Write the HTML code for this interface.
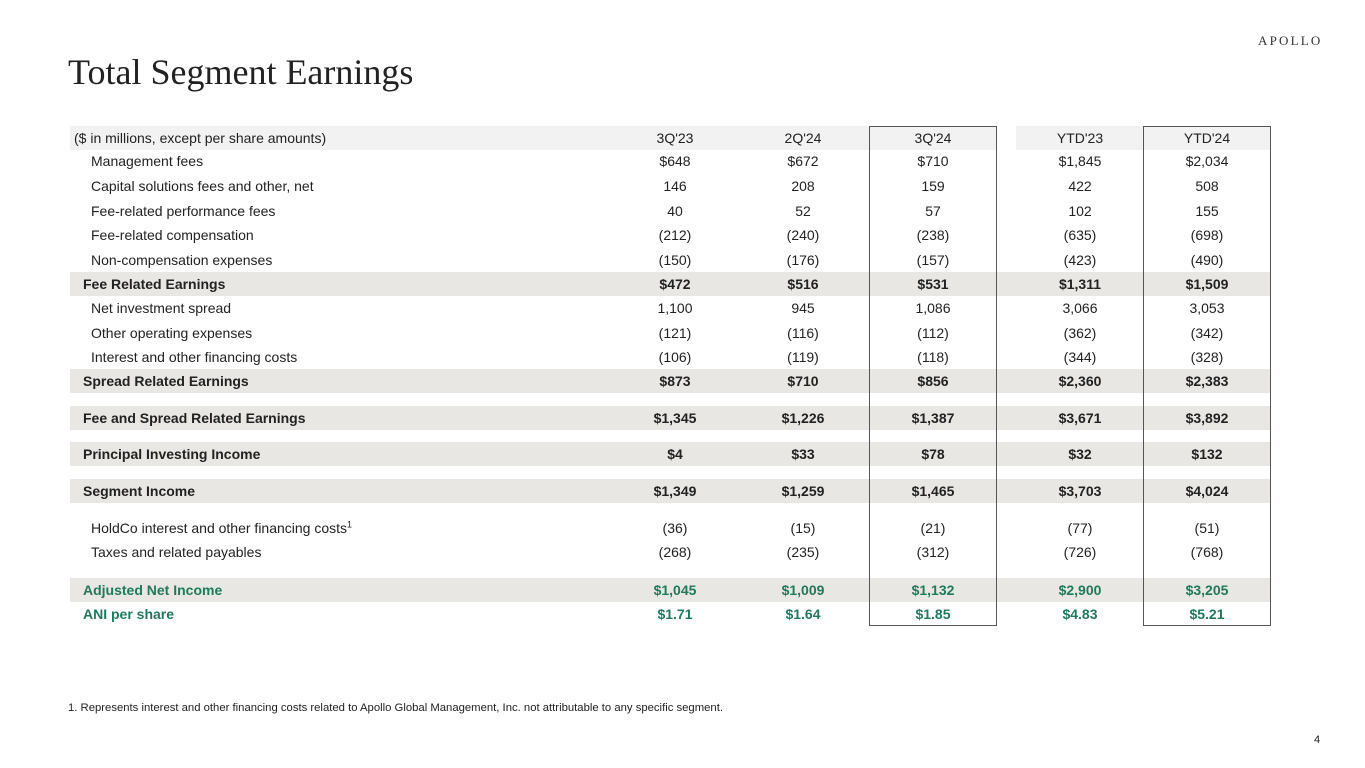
<!DOCTYPE html>
<html><head><meta charset="utf-8"><style>
body{margin:0;width:1365px;height:768px;background:#fff;position:relative;overflow:hidden;font-family:"Liberation Sans",Arial,sans-serif;color:#222;}
.t{position:absolute;left:68px;top:51px;font-family:"Liberation Serif",serif;font-size:36px;color:#222;}
.logo{position:absolute;left:1258px;top:33px;font-family:"Liberation Serif",serif;font-size:13px;letter-spacing:2.2px;color:#333;}
.band{position:absolute;left:70px;width:1200px;height:24px;background:#e8e7e3;}
.hdr{position:absolute;top:126px;height:24px;background:#f2f2f2;}
.r{position:absolute;left:0;width:1365px;height:24px;line-height:24px;font-size:14px;}
.r span{position:absolute;text-align:center;width:128px;}
.r .l{text-align:left;width:auto;left:91px;}
.b{font-weight:bold;}
.b .l{left:83px;}
.g{color:#1f7a5c;}
.box{position:absolute;top:126px;height:500px;border:1px solid #555;box-sizing:border-box;}
.fn{position:absolute;left:68px;top:702px;font-size:11.3px;}
.pg{position:absolute;left:1314px;top:734px;font-size:11px;}
sup{font-size:9px;line-height:0;}
</style></head><body>
<div class="t">Total Segment Earnings</div>
<div class="logo">APOLLO</div>
<div class="hdr" style="left:70px;width:926px"></div>
<div class="hdr" style="left:1016px;width:254px"></div>
<div class="band" style="top:272px"></div>
<div class="band" style="top:369px"></div>
<div class="band" style="top:406px"></div>
<div class="band" style="top:442px"></div>
<div class="band" style="top:479px"></div>
<div class="band" style="top:578px"></div>
<div class="box" style="left:869px;width:128px"></div>
<div class="box" style="left:1143px;width:128px"></div>

<div class="r" style="top:126px"><span class="l" style="left:74px">($ in millions, except per share amounts)</span><span style="left:611px">3Q'23</span><span style="left:739px">2Q'24</span><span style="left:869px">3Q'24</span><span style="left:1016px">YTD'23</span><span style="left:1143px">YTD'24</span></div>
<div class="r" style="top:149px"><span class="l">Management fees</span><span style="left:611px">$648</span><span style="left:739px">$672</span><span style="left:869px">$710</span><span style="left:1016px">$1,845</span><span style="left:1143px">$2,034</span></div>
<div class="r" style="top:174px"><span class="l">Capital solutions fees and other, net</span><span style="left:611px">146</span><span style="left:739px">208</span><span style="left:869px">159</span><span style="left:1016px">422</span><span style="left:1143px">508</span></div>
<div class="r" style="top:199px"><span class="l">Fee-related performance fees</span><span style="left:611px">40</span><span style="left:739px">52</span><span style="left:869px">57</span><span style="left:1016px">102</span><span style="left:1143px">155</span></div>
<div class="r" style="top:223px"><span class="l">Fee-related compensation</span><span style="left:611px">(212)</span><span style="left:739px">(240)</span><span style="left:869px">(238)</span><span style="left:1016px">(635)</span><span style="left:1143px">(698)</span></div>
<div class="r" style="top:248px"><span class="l">Non-compensation expenses</span><span style="left:611px">(150)</span><span style="left:739px">(176)</span><span style="left:869px">(157)</span><span style="left:1016px">(423)</span><span style="left:1143px">(490)</span></div>
<div class="r b" style="top:272px"><span class="l">Fee Related Earnings</span><span style="left:611px">$472</span><span style="left:739px">$516</span><span style="left:869px">$531</span><span style="left:1016px">$1,311</span><span style="left:1143px">$1,509</span></div>
<div class="r" style="top:296px"><span class="l">Net investment spread</span><span style="left:611px">1,100</span><span style="left:739px">945</span><span style="left:869px">1,086</span><span style="left:1016px">3,066</span><span style="left:1143px">3,053</span></div>
<div class="r" style="top:321px"><span class="l">Other operating expenses</span><span style="left:611px">(121)</span><span style="left:739px">(116)</span><span style="left:869px">(112)</span><span style="left:1016px">(362)</span><span style="left:1143px">(342)</span></div>
<div class="r" style="top:345px"><span class="l">Interest and other financing costs</span><span style="left:611px">(106)</span><span style="left:739px">(119)</span><span style="left:869px">(118)</span><span style="left:1016px">(344)</span><span style="left:1143px">(328)</span></div>
<div class="r b" style="top:369px"><span class="l">Spread Related Earnings</span><span style="left:611px">$873</span><span style="left:739px">$710</span><span style="left:869px">$856</span><span style="left:1016px">$2,360</span><span style="left:1143px">$2,383</span></div>
<div class="r b" style="top:406px"><span class="l">Fee and Spread Related Earnings</span><span style="left:611px">$1,345</span><span style="left:739px">$1,226</span><span style="left:869px">$1,387</span><span style="left:1016px">$3,671</span><span style="left:1143px">$3,892</span></div>
<div class="r b" style="top:442px"><span class="l">Principal Investing Income</span><span style="left:611px">$4</span><span style="left:739px">$33</span><span style="left:869px">$78</span><span style="left:1016px">$32</span><span style="left:1143px">$132</span></div>
<div class="r b" style="top:479px"><span class="l">Segment Income</span><span style="left:611px">$1,349</span><span style="left:739px">$1,259</span><span style="left:869px">$1,465</span><span style="left:1016px">$3,703</span><span style="left:1143px">$4,024</span></div>
<div class="r" style="top:516px"><span class="l">HoldCo interest and other financing costs<sup>1</sup></span><span style="left:611px">(36)</span><span style="left:739px">(15)</span><span style="left:869px">(21)</span><span style="left:1016px">(77)</span><span style="left:1143px">(51)</span></div>
<div class="r" style="top:540px"><span class="l">Taxes and related payables</span><span style="left:611px">(268)</span><span style="left:739px">(235)</span><span style="left:869px">(312)</span><span style="left:1016px">(726)</span><span style="left:1143px">(768)</span></div>
<div class="r b g" style="top:578px"><span class="l">Adjusted Net Income</span><span style="left:611px">$1,045</span><span style="left:739px">$1,009</span><span style="left:869px">$1,132</span><span style="left:1016px">$2,900</span><span style="left:1143px">$3,205</span></div>
<div class="r b g" style="top:602px"><span class="l">ANI per share</span><span style="left:611px">$1.71</span><span style="left:739px">$1.64</span><span style="left:869px">$1.85</span><span style="left:1016px">$4.83</span><span style="left:1143px">$5.21</span></div>

<div class="fn">1. Represents interest and other financing costs related to Apollo Global Management, Inc. not attributable to any specific segment.</div>
<div class="pg">4</div>
</body></html>
